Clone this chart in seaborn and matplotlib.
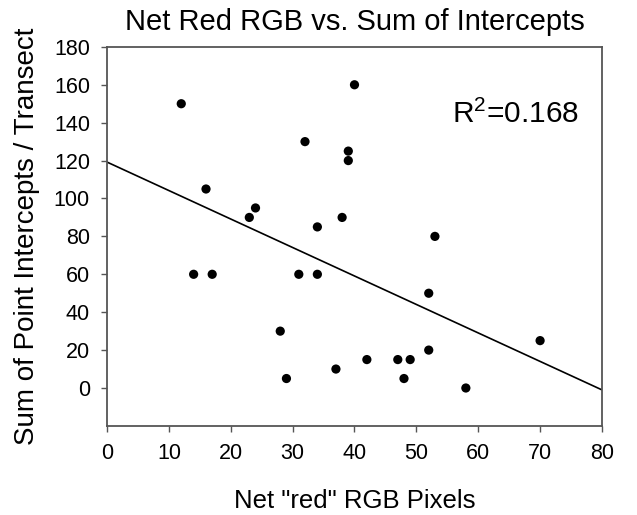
import numpy as np
import pandas as pd
import seaborn as sns
import matplotlib
import matplotlib.pyplot as plt

matplotlib.use('Agg')

# Werte
net_red = [12, 40, 32, 39, 39, 16, 23, 24, 38, 34, 53, 14, 17, 31, 34, 52,
           28, 70, 52, 42, 47, 49, 37, 29, 48, 58]
intercepts = [150, 160, 130, 125, 120, 105, 90, 95, 90, 85, 80, 60, 60, 60, 60, 50,
              30, 25, 20, 15, 15, 15, 10, 5, 5, 0]
x_ticks = [0, 10, 20, 30, 40, 50, 60, 70, 80]
y_ticks = [0, 20, 40, 60, 80, 100, 120, 140, 160, 180]
r2_label = "R$^2$=0.168"

df = pd.DataFrame({'net_red': net_red, 'intercepts': intercepts})

sns.set_style('ticks')
plt.rcParams['font.family'] = ['Liberation Sans', 'DejaVu Sans']
plt.rcParams['mathtext.default'] = 'regular'
plt.rcParams['text.color'] = 'black'
plt.rcParams['axes.labelcolor'] = 'black'

fig, ax = plt.subplots(figsize=(6.37, 5.15), dpi=100)
fig.subplots_adjust(left=0.168, right=0.945, top=0.909, bottom=0.173)

ax.set_xlim(0, 80)
ax.set_ylim(-20, 180)

# Regressionslinie ueber den ganzen x-Bereich
sns.regplot(data=df, x='net_red', y='intercepts', ax=ax, ci=None, truncate=False,
            scatter_kws={'s': 44, 'color': 'black', 'edgecolors': 'none', 'alpha': 1},
            line_kws={'color': 'black', 'linewidth': 1.2})

ax.set_xticks(x_ticks)
ax.set_yticks(y_ticks)
ax.tick_params(axis='both', labelsize=15.5, colors='#555555', labelcolor='black',
               length=4.3, width=1, direction='out', pad=8)

for side in ['left', 'right', 'top', 'bottom']:
    ax.spines[side].set_visible(True)
    ax.spines[side].set_color('#555555')
    ax.spines[side].set_linewidth(1.3)

ax.set_title('Net Red RGB vs. Sum of Intercepts', fontsize=21, pad=12)
ax.set_xlabel('Net "red" RGB Pixels', fontsize=18.5, labelpad=18)
ax.set_ylabel('Sum of Point Intercepts / Transect', fontsize=20, labelpad=10)

ax.text(55.8, 140, r2_label, fontsize=21.5, ha='left', va='baseline')

plt.savefig('out.png', dpi=100)
